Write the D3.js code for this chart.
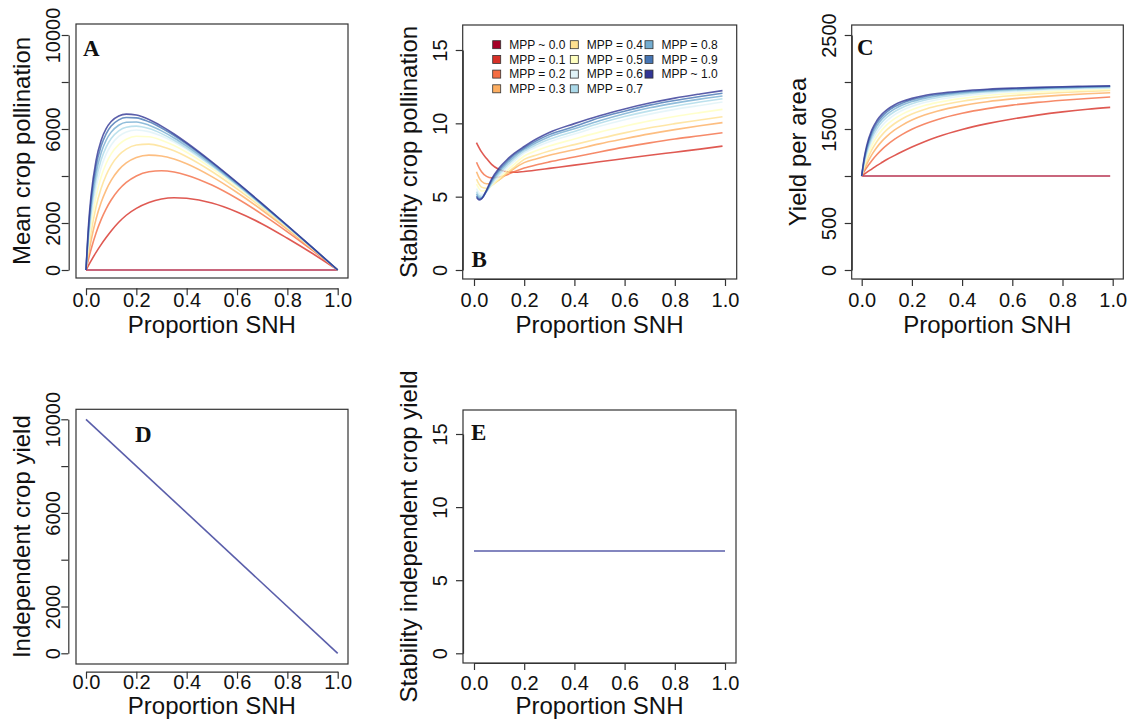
<!DOCTYPE html>
<html>
<head>
<meta charset="utf-8">
<script src="https://cdn.jsdelivr.net/npm/d3@7"></script>
<style>
  html, body { margin: 0; padding: 0; background: #fff; }
  svg text { font-family: "Liberation Sans", Arial, Helvetica, sans-serif; fill: #111; }
  svg text.letter { font-family: "Liberation Serif", "Times New Roman", serif; font-weight: bold; }
</style>
</head>
<body>
<div id="chart"></div>
<script>
// ---- data ----
var mppLabels = ["MPP ~ 0.0", "MPP = 0.1", "MPP = 0.2", "MPP = 0.3", "MPP = 0.4", "MPP = 0.5",
                 "MPP = 0.6", "MPP = 0.7", "MPP = 0.8", "MPP = 0.9", "MPP ~ 1.0"];
var mppColors = ["#a50026", "#d73027", "#f46d43", "#fdae61", "#fee090", "#ffffbf",
                 "#e0f3f8", "#abd9e9", "#74add1", "#4575b4", "#313695"];

var xTicks = [0, 0.2, 0.4, 0.6, 0.8, 1.0];
var xTickLabels = ["0.0", "0.2", "0.4", "0.6", "0.8", "1.0"];

// A: mean crop pollination
var snhA = [0, 0.01, 0.02, 0.04, 0.06, 0.08, 0.1, 0.13, 0.16, 0.2, 0.25, 0.3, 0.35, 0.4, 0.5, 0.6, 0.7, 0.8, 0.9, 1.0];
var meanPollination = [
  [0, 0, 0, 0, 0, 0, 0, 0, 0, 0, 0, 0, 0, 0, 0, 0, 0, 0, 0, 0],
  [0, 200, 390, 750, 1080, 1380, 1660, 2030, 2330, 2620, 2870, 3020, 3075, 3050, 2850, 2470, 1960, 1350, 700, 0],
  [0, 462, 874, 1576, 2143, 2604, 2978, 3412, 3726, 4003, 4182, 4225, 4169, 4036, 3613, 3040, 2368, 1625, 832, 0],
  [0, 671, 1246, 2169, 2868, 3402, 3814, 4260, 4556, 4786, 4890, 4854, 4722, 4520, 3972, 3298, 2543, 1731, 880, 0],
  [0, 873, 1590, 2685, 3466, 4034, 4451, 4880, 5143, 5319, 5356, 5258, 5070, 4819, 4190, 3452, 2645, 1793, 908, 0],
  [0, 1064, 1904, 3128, 3956, 4533, 4940, 5338, 5563, 5690, 5670, 5524, 5294, 5009, 4324, 3544, 2706, 1828, 924, 0],
  [0, 1244, 2189, 3508, 4360, 4932, 5320, 5683, 5872, 5956, 5888, 5704, 5444, 5132, 4408, 3600, 2741, 1848, 933, 0],
  [0, 1407, 2438, 3821, 4677, 5231, 5597, 5923, 6078, 6123, 6018, 5804, 5521, 5191, 4442, 3618, 2749, 1851, 933, 0],
  [0, 1575, 2687, 4126, 4983, 5522, 5867, 6160, 6287, 6299, 6161, 5921, 5618, 5272, 4498, 3656, 2774, 1866, 939, 0],
  [0, 1743, 2933, 4420, 5275, 5797, 6123, 6388, 6489, 6473, 6307, 6045, 5723, 5362, 4564, 3704, 2806, 1886, 949, 0],
  [0, 1898, 3152, 4669, 5512, 6015, 6319, 6556, 6633, 6592, 6402, 6122, 5787, 5414, 4599, 3727, 2822, 1894, 952, 0]
];

// B: stability of crop pollination (no curve for MPP ~ 0.0)
var snhB = [0.01, 0.02, 0.03, 0.05, 0.07, 0.1, 0.13, 0.16, 0.2, 0.25, 0.3, 0.4, 0.5, 0.6, 0.7, 0.8, 0.9, 0.99];
var stabilityPollination = [
  null,
  [8.68, 8.35, 8.05, 7.6, 7.2, 6.85, 6.7, 6.66, 6.72, 6.82, 6.93, 7.15, 7.38, 7.6, 7.82, 8.03, 8.24, 8.45],
  [7.35, 6.98, 6.7, 6.38, 6.28, 6.33, 6.48, 6.7, 6.95, 7.18, 7.37, 7.7, 8.05, 8.38, 8.67, 8.93, 9.15, 9.36],
  [6.7, 6.3, 6.05, 5.88, 5.9, 6.15, 6.55, 6.92, 7.32, 7.58, 7.82, 8.2, 8.6, 8.95, 9.28, 9.57, 9.83, 10.05],
  [6.2, 5.85, 5.65, 5.57, 5.75, 6.15, 6.6, 7.0, 7.54, 7.84, 8.11, 8.55, 8.96, 9.35, 9.7, 9.98, 10.23, 10.45],
  [5.85, 5.55, 5.38, 5.45, 5.75, 6.25, 6.75, 7.2, 7.77, 8.14, 8.45, 8.93, 9.4, 9.8, 10.17, 10.47, 10.73, 10.95],
  [5.55, 5.25, 5.15, 5.35, 5.8, 6.4, 6.95, 7.42, 7.98, 8.4, 8.74, 9.27, 9.8, 10.25, 10.63, 10.95, 11.22, 11.45],
  [5.35, 5.08, 5.02, 5.35, 5.9, 6.55, 7.1, 7.58, 8.1, 8.55, 8.91, 9.45, 10.0, 10.46, 10.85, 11.17, 11.45, 11.68],
  [5.2, 4.95, 4.93, 5.38, 6.0, 6.7, 7.25, 7.72, 8.22, 8.69, 9.09, 9.63, 10.18, 10.66, 11.06, 11.38, 11.65, 11.86],
  [5.05, 4.85, 4.88, 5.4, 6.1, 6.82, 7.38, 7.85, 8.32, 8.82, 9.23, 9.78, 10.38, 10.83, 11.24, 11.56, 11.83, 12.05],
  [4.95, 4.78, 4.85, 5.45, 6.2, 6.95, 7.5, 7.95, 8.42, 8.95, 9.38, 9.98, 10.52, 10.98, 11.38, 11.72, 12.0, 12.23]
];

// C: yield per area
var snhC = [0, 0.01, 0.02, 0.04, 0.06, 0.08, 0.1, 0.13, 0.16, 0.2, 0.25, 0.3, 0.4, 0.5, 0.6, 0.7, 0.8, 0.9, 0.99];
var yieldPerArea = [
  [1000, 1000, 1000, 1000, 1000, 1000, 1000, 1000, 1000, 1000, 1000, 1000, 1000, 1000, 1000, 1000, 1000, 1000, 1000],
  [1000, 1019, 1038, 1074, 1110, 1143, 1175, 1217, 1257, 1308, 1365, 1415, 1495, 1557, 1607, 1648, 1682, 1710, 1730],
  [1000, 1046, 1089, 1163, 1226, 1281, 1328, 1389, 1440, 1497, 1553, 1599, 1667, 1717, 1754, 1783, 1806, 1825, 1840],
  [1000, 1067, 1126, 1225, 1303, 1368, 1421, 1487, 1539, 1595, 1648, 1689, 1749, 1790, 1820, 1842, 1860, 1875, 1886],
  [1000, 1087, 1161, 1277, 1365, 1435, 1490, 1556, 1607, 1659, 1708, 1744, 1796, 1831, 1855, 1874, 1888, 1900, 1909],
  [1000, 1106, 1192, 1323, 1417, 1488, 1544, 1608, 1656, 1704, 1749, 1781, 1826, 1856, 1877, 1893, 1905, 1915, 1922],
  [1000, 1125, 1222, 1364, 1462, 1533, 1588, 1650, 1696, 1741, 1781, 1811, 1851, 1877, 1896, 1909, 1920, 1928, 1934],
  [1000, 1143, 1250, 1400, 1500, 1571, 1625, 1684, 1727, 1769, 1806, 1833, 1870, 1893, 1909, 1921, 1930, 1938, 1943],
  [1000, 1160, 1276, 1432, 1533, 1604, 1656, 1712, 1753, 1792, 1826, 1851, 1884, 1905, 1920, 1930, 1938, 1945, 1950],
  [1000, 1176, 1300, 1461, 1562, 1631, 1682, 1736, 1774, 1811, 1843, 1865, 1896, 1915, 1928, 1937, 1945, 1951, 1955],
  [1000, 1192, 1323, 1488, 1588, 1656, 1704, 1756, 1792, 1826, 1856, 1877, 1905, 1923, 1935, 1943, 1950, 1955, 1959]
];

// D: independent crop yield, E: its stability
var snhD = [0, 1];
var independentYield = [10000, 0];
var snhE = [0, 1];
var independentStability = [7, 7];

var yTicksBig = [0, 2000, 4000, 6000, 8000, 10000];
var yLabelsBig = ["0", "2000", "", "6000", "", "10000"];
var yTicksStab = [0, 5, 10, 15];
var yLabelsStab = ["0", "5", "10", "15"];
var yTicksC = [0, 500, 1000, 1500, 2000, 2500];
var yLabelsC = ["0", "500", "", "1500", "", "2500"];

// ---- drawing ----
var svg = d3.select("#chart")
    .append("svg")
    .attr("width", 1134)
    .attr("height", 726);

var lineOpacity = 0.8;

function drawPanel(cfg) {
    var x = d3.scaleLinear().domain([0, 1]).range(cfg.xRange),
        y = d3.scaleLinear().domain(cfg.yDomain).range(cfg.yRange),
        g = svg.append("g");

    // box
    g.append("rect")
        .attr("x", cfg.box[0])
        .attr("y", cfg.box[1])
        .attr("width", cfg.box[2] - cfg.box[0])
        .attr("height", cfg.box[3] - cfg.box[1])
        .attr("fill", "none")
        .attr("stroke", "#333")
        .attr("stroke-width", 1.2);

    // x axis
    var xa = g.append("g")
        .attr("transform", "translate(0," + cfg.xAxisY + ")")
        .call(d3.axisBottom(x)
            .tickValues(xTicks)
            .tickFormat(function (d, i) { return xTickLabels[i]; })
            .tickSize(7)
            .tickSizeOuter(0));
    xa.selectAll("text")
        .attr("y", cfg.xLabelY - cfg.xAxisY)
        .attr("dy", 0)
        .attr("font-size", 20);

    // y axis, labels parallel to the axis like R
    var ya = g.append("g")
        .attr("transform", "translate(" + cfg.yAxisX + ",0)")
        .call(d3.axisLeft(y)
            .tickValues(cfg.yTicks)
            .tickFormat(function (d, i) { return cfg.yLabels[i]; })
            .tickSize(7)
            .tickSizeOuter(0));
    ya.selectAll("text")
        .attr("transform", "rotate(-90)")
        .attr("x", 0)
        .attr("y", -(cfg.yAxisX - (cfg.box[0] - 16)))
        .attr("dy", 0)
        .attr("text-anchor", "middle")
        .attr("font-size", 20);

    g.selectAll(".domain, .tick line")
        .attr("stroke", "#333")
        .attr("stroke-width", 1.2);

    // titles
    g.append("text")
        .attr("x", (cfg.xRange[0] + cfg.xRange[1]) / 2)
        .attr("y", cfg.xTitleY)
        .attr("text-anchor", "middle")
        .attr("font-size", 24)
        .text("Proportion SNH");

    g.append("text")
        .attr("transform", "translate(" + (cfg.box[0] - 46) + "," + ((cfg.box[1] + cfg.box[3]) / 2) + ") rotate(-90)")
        .attr("text-anchor", "middle")
        .attr("font-size", 24)
        .text(cfg.yTitle);

    g.append("text")
        .attr("class", "letter")
        .attr("x", cfg.letter[0])
        .attr("y", cfg.letter[1])
        .attr("font-size", 23)
        .text(cfg.letterText);

    // curves
    var line = d3.line()
        .defined(function (d) { return d[1] != null; })
        .x(function (d) { return x(d[0]); })
        .y(function (d) { return y(d[1]); })
        .curve(d3.curveMonotoneX);

    cfg.series.forEach(function (vals, i) {
        if (!vals) { return; }
        var pts = cfg.xs.map(function (p, j) { return [p, vals[j]]; });
        g.append("path")
            .attr("d", line(pts))
            .attr("fill", "none")
            .attr("stroke", cfg.colors ? cfg.colors[i] : mppColors[10])
            .attr("stroke-opacity", lineOpacity)
            .attr("stroke-width", 1.6);
    });

    return g;
}

drawPanel({
    box: [76, 24, 348, 278], xRange: [86, 337.7], yRange: [270, 35], yDomain: [0, 10000],
    xAxisY: 288.3, yAxisX: 68.7, xLabelY: 307, xTitleY: 333,
    yTicks: yTicksBig, yLabels: yLabelsBig, yTitle: "Mean crop pollination",
    letter: [83, 56], letterText: "A",
    xs: snhA, series: meanPollination, colors: mppColors
});

var panelB = drawPanel({
    box: [462.7, 25, 736.7, 279], xRange: [474, 725], yRange: [270, 50], yDomain: [0, 15],
    xAxisY: 279, yAxisX: 462.7, xLabelY: 307, xTitleY: 333,
    yTicks: yTicksStab, yLabels: yLabelsStab, yTitle: "Stability crop pollination",
    letter: [471.5, 267], letterText: "B",
    xs: snhB, series: stabilityPollination, colors: mppColors
});

drawPanel({
    box: [851.7, 25, 1123.3, 279], xRange: [861.7, 1112.7], yRange: [270, 35], yDomain: [0, 2500],
    xAxisY: 279, yAxisX: 851.7, xLabelY: 307, xTitleY: 333,
    yTicks: yTicksC, yLabels: yLabelsC, yTitle: "Yield per area",
    letter: [857, 55], letterText: "C",
    xs: snhC, series: yieldPerArea, colors: mppColors
});

drawPanel({
    box: [76, 409.3, 348, 664], xRange: [86, 337.7], yRange: [653.3, 419.3], yDomain: [0, 10000],
    xAxisY: 671.7, yAxisX: 68.3, xLabelY: 689, xTitleY: 714,
    yTicks: yTicksBig, yLabels: yLabelsBig, yTitle: "Independent crop yield",
    letter: [135, 442], letterText: "D",
    xs: snhD, series: [independentYield], colors: null
});

drawPanel({
    box: [463, 410, 736, 663], xRange: [474, 725], yRange: [653.3, 434], yDomain: [0, 15],
    xAxisY: 663, yAxisX: 463, xLabelY: 690, xTitleY: 714,
    yTicks: yTicksStab, yLabels: yLabelsStab, yTitle: "Stability independent crop yield",
    letter: [471, 440], letterText: "E",
    xs: snhE, series: [independentStability], colors: null
});

// legend inside panel B, three columns filled top to bottom
var legendColX = [492.7, 570.3, 645],
    legendRowY = 44.7,
    legendStep = 14.7;

var legend = panelB.append("g").attr("class", "legend");
mppLabels.forEach(function (lab, i) {
    var col = Math.floor(i / 4),
        row = i % 4,
        cx = legendColX[col],
        cy = legendRowY + row * legendStep;
    legend.append("rect")
        .attr("x", cx)
        .attr("y", cy - 4)
        .attr("width", 8)
        .attr("height", 8)
        .attr("fill", mppColors[i])
        .attr("stroke", "#333")
        .attr("stroke-width", 0.8);
    legend.append("text")
        .attr("x", cx + 16.5)
        .attr("y", cy + 4.3)
        .attr("font-size", 12)
        .text(lab);
});
</script>
</body>
</html>
